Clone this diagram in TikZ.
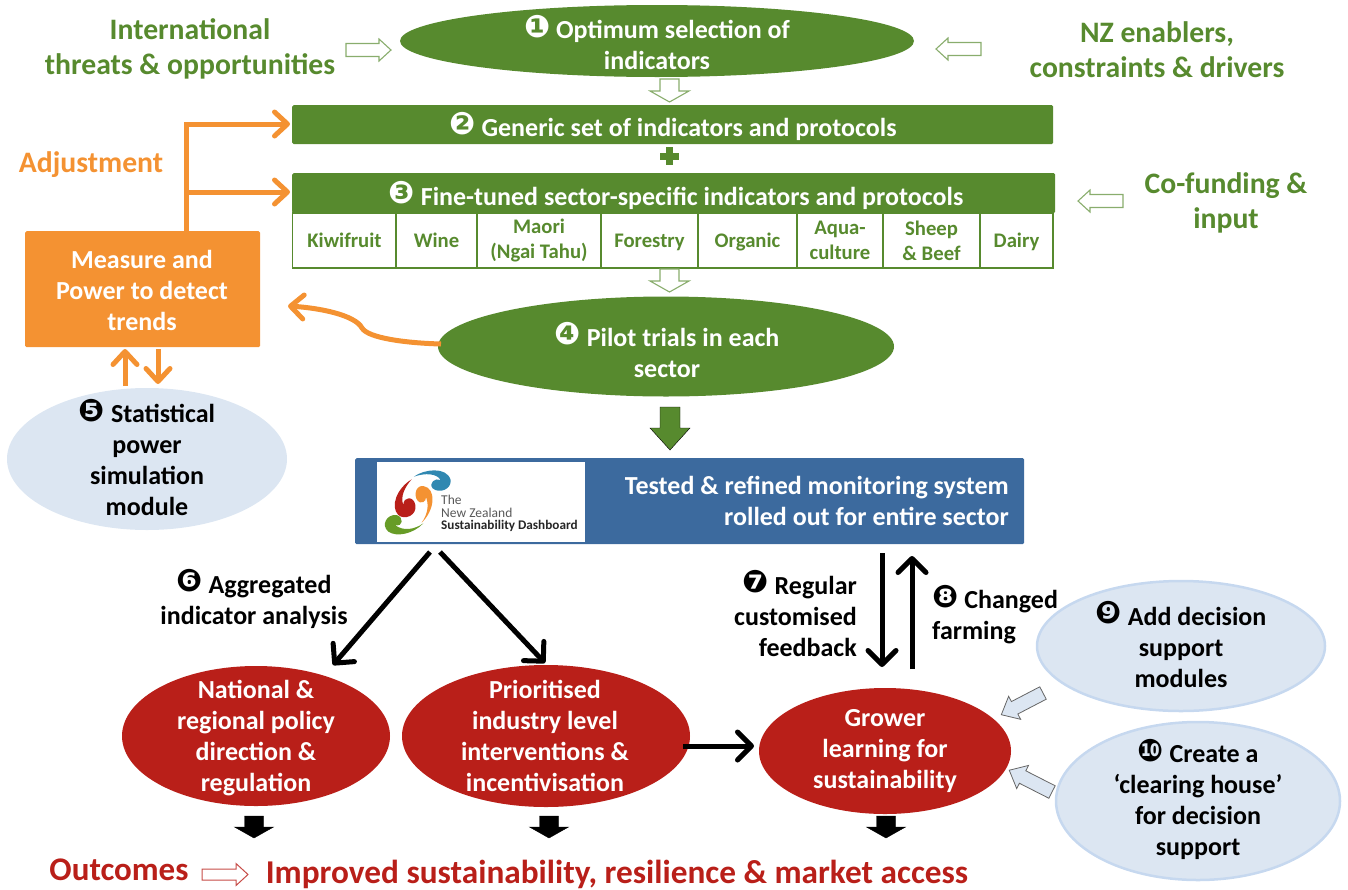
\documentclass[tikz,border=0pt]{standalone}
\usepackage{fontspec}
\setmainfont{Carlito}[BoldFont={Carlito Bold}]
\newfontfamily\symfnt{DejaVu Sans}
\usetikzlibrary{shapes.geometric,arrows.meta}
\definecolor{grn}{HTML}{578A2E}
\definecolor{org}{HTML}{F49232}
\definecolor{rd}{HTML}{B91F19}
\definecolor{blu}{HTML}{3C6A9E}
\definecolor{lbl}{HTML}{DCE6F2}
\definecolor{lbd}{HTML}{C6D8EF}
\newcommand{\fsz}[2]{\fontsize{#1}{#2}\selectfont\bfseries}
\newcommand{\cn}[1]{\raisebox{1.5pt}[0pt][0pt]{\symfnt\fontsize{31}{31}\selectfont #1}}
\newcommand{\nod}[1]{\raisebox{0pt}[\height][0pt]{#1}}
% block arrow: tail(x,y), length, rotation, half shaft, half head, head length, style
\newcommand{\blockarr}[8]{\draw[#8,shift={(#1,#2)},rotate=-#4]
  (0,-#5)--(#3-#7,-#5)--(#3-#7,-#6)--(#3,0)--(#3-#7,#6)--(#3-#7,#5)--(0,#5)--cycle;}
\tikzset{
  greenell/.style={ellipse,fill=grn,inner sep=0pt},
  redell/.style={ellipse,fill=rd,inner sep=0pt},
  blueell/.style={ellipse,fill=lbl,draw=lbd,line width=2.5pt,inner sep=0pt},
  lab/.style={align=center,inner sep=0pt,font=\fsz{26}{31}},
  wlab/.style={lab,text=white},
  blab/.style={lab,text=black},
  glab/.style={align=center,inner sep=0pt,font=\fsz{29.7}{35},text=grn},
  bar/.style={rectangle,fill=grn,inner sep=0pt,anchor=north west,rounded corners=1.5pt},
  cellb/.style={rectangle,draw=grn,line width=1.5pt,inner sep=0pt,minimum height=55pt,text=grn,align=center,font=\fsz{20.7}{25}},
  hollowg/.style={draw=grn!70!white,fill=white,line width=1.1pt},
  orgline/.style={draw=org,line width=5pt,-{Straight Barb[length=13pt,width=24pt,line width=5pt,round]}},
  blkline/.style={draw=black,line width=5pt,-{Straight Barb[length=14pt,width=28pt,line width=5pt,round]}},
}
\begin{document}
\begin{tikzpicture}[x=1pt,y=-1pt]
\useasboundingbox (0,0) rectangle (1348,889);
% green ellipses and bars
\node[greenell,minimum width=514pt,minimum height=72pt] (e1) at (657,41) {};
\node[wlab] (t1) at (657,45) {\cn{❶} Optimum selection of\\indicators};
\node[bar,minimum width=761pt,minimum height=39pt] (b2) at (292,105) {};
\node[wlab] (t2) at (673,129) {\cn{❷} Generic set of indicators and protocols};
\node[bar,minimum width=763pt,minimum height=40pt] (b3) at (292,173) {};
\node[wlab] (t3) at (676,198) {\cn{❸} Fine-tuned sector-specific indicators and protocols};
% plus
\fill[grn] (666,147) rectangle (673,165);
\fill[grn] (660,152.5) rectangle (679,159.5);
% table
\node[cellb,minimum width=104pt] (c1) at (344.5,240.5) {Kiwifruit};
\node[cellb,minimum width=81pt] (c2) at (436.5,240.5) {Wine};
\node[cellb,minimum width=124pt] (c3) at (539,240.5) {Maori\\(Ngai Tahu)};
\node[cellb,minimum width=97pt] (c4) at (649.5,240.5) {\nod{Forestry}};
\node[cellb,minimum width=99pt] (c5) at (747.5,240.5) {\nod{Organic}};
\node[cellb,minimum width=86pt] (c6) at (840,240.5) {Aqua-\\culture};
\node[cellb,minimum width=97pt] (c7) at (931.5,240.5) {Sheep\\\& Beef};
\node[cellb,minimum width=73pt] (c8) at (1016.5,240.5) {\nod{Dairy}};
% side labels
\node[glab] (tl) at (190,48.5) {International\\threats \& opportunities};
\node[glab] (tr) at (1157,50) {NZ enablers,\\constraints \& drivers};
\node[glab] (tc) at (1226,202.5) {Co-funding \&\\input};
\node[align=center,inner sep=0pt,font=\fsz{29.7}{30},text=org] (adj) at (91,165) {Adjustment};
% hollow arrows
\blockarr{346}{50}{45}{0}{6.5}{11}{12}{hollowg}
\blockarr{981}{49}{45}{180}{6.5}{11}{12}{hollowg}
\blockarr{669.5}{79}{23}{90}{9.5}{19.5}{11}{hollowg}
\blockarr{669.5}{269}{23}{90}{9.5}{19.5}{11}{hollowg}
\blockarr{1123}{201}{45}{180}{6.5}{11}{12}{hollowg}
% pilot ellipse
\node[greenell,minimum width=456pt,minimum height=100pt] (e4) at (666,346.5) {};
\node[wlab] (t4) at (667,352.5) {\cn{❹} Pilot trials in each\\sector};
% orange box
\node[rectangle,fill=org,minimum width=235pt,minimum height=116pt,inner sep=0pt,anchor=north west,rounded corners=1.5pt] (mp) at (25,231) {};
\node[wlab] (tm) at (142,290) {Measure and\\Power to detect\\trends};
% ellipse 5
\node[ellipse,fill=lbl,inner sep=0pt,minimum width=280pt,minimum height=142pt] (e5) at (147,459) {};
\node[blab] (t5) at (147,460) {\cn{❺} Statistical\\power\\simulation\\module};
% orange connectors
\coordinate (o0) at (186,231);
\coordinate (o1) at (186,124);
\coordinate (o2) at (186,192);
\coordinate (o3) at (290,124);
\coordinate (o4) at (290,192);
\draw[orgline] (o0) -- (o1) -- (o3);
\draw[orgline] (o2) -- (o4);
\coordinate (o5) at (125,386);
\coordinate (o6) at (125,349);
\coordinate (o7) at (158,349);
\coordinate (o8) at (158,384);
\draw[orgline] (o5) -- (o6);
\draw[orgline] (o7) -- (o8);
\coordinate (o9) at (441,344);
\coordinate (o10) at (288,306);
\draw[orgline] (o9) .. controls (405,343) and (368,338) .. (362,328) .. controls (355,315) and (320,308) .. (o10);
% down arrow green
\blockarr{670}{407}{43}{90}{10}{20}{22}{fill=grn}
% blue bar
\node[rectangle,fill=blu,minimum width=669pt,minimum height=86pt,inner sep=0pt,anchor=north west,rounded corners=1.5pt] (bb) at (355,458) {};
\node[rectangle,fill=white,minimum width=208pt,minimum height=80pt,inner sep=0pt,anchor=north west] (lg) at (377,462) {};
\node[align=right,inner sep=0pt,anchor=east,font=\fsz{26}{31},text=white] (tb) at (1009,501) {Tested \& refined monitoring system\\rolled out for entire sector};
% logo
\begin{scope}[shift={(340,450)},x=0.3333pt,y=-0.3333pt]
\fill[blu!80!cyan] (222,80) .. controls (250,58) and (320,48) .. (332,90) .. controls (335,118) and (298,132) .. (278,115) .. controls (265,100) and (285,82) .. (302,90) .. controls (290,70) and (255,68) .. (222,80) -- cycle;
\fill[rd] (215,88) .. controls (170,115) and (150,170) .. (175,195) .. controls (195,212) and (232,195) .. (226,165) .. controls (222,138) and (190,138) .. (190,165) .. controls (180,140) and (195,110) .. (215,88) -- cycle;
\fill[org] (245,218) .. controls (285,180) and (290,115) .. (250,108) .. controls (222,105) and (220,150) .. (240,157) .. controls (255,160) and (262,145) .. (255,135) .. controls (268,160) and (265,190) .. (245,218) -- cycle;
\fill[grn!85!lime] (250,220) .. controls (220,252) and (170,262) .. (145,245) .. controls (122,225) and (140,192) .. (170,195) .. controls (192,202) and (190,232) .. (165,225) .. controls (190,245) and (225,238) .. (250,220) -- cycle;
\end{scope}
\node[anchor=west,inner sep=0pt,text=black!65,font=\fontsize{13.5}{14}\selectfont] (lg1) at (441,500) {The};
\node[anchor=west,inner sep=0pt,text=black!65,font=\fontsize{13.5}{14}\selectfont] (lg2) at (441,512.5) {New Zealand};
\node[anchor=west,inner sep=0pt,text=black!85,font=\fsz{13.2}{14}] (lg3) at (441,525.5) {Sustainability Dashboard};
% red ellipses
\node[redell,minimum width=268pt,minimum height=140pt] (r1) at (256,736) {};
\node[wlab] (tr1) at (256,738) {National \&\\regional policy\\direction \&\\regulation};
\node[redell,minimum width=288pt,minimum height=142pt] (r2) at (546,736) {};
\node[wlab] (tr2) at (545,736) {Prioritised\\industry level\\interventions \&\\incentivisation};
\node[redell,minimum width=252pt,minimum height=126pt] (r3) at (885,751) {};
\node[wlab] (tr3) at (885,751) {Grower\\learning for\\sustainability};
% blue ellipses
\node[blueell,minimum width=288pt,minimum height=130pt] (e9) at (1181,646) {};
\node[blab] (t9) at (1181,647) {\cn{❾} Add decision\\support\\modules};
\node[blueell,minimum width=284pt,minimum height=158pt] (e10) at (1198,801) {};
\node[blab] (t10) at (1198,803) {\cn{❿} Create a\\‘clearing house’\\for decision\\support};
% black connectors
\coordinate (k1) at (430,552);
\coordinate (k2) at (333,665);
\coordinate (k3) at (440,552);
\coordinate (k4) at (545,663);
\coordinate (k5) at (882,553);
\coordinate (k6) at (882,667);
\coordinate (k7) at (912,669);
\coordinate (k8) at (912,556);
\coordinate (k9) at (683,746);
\coordinate (k10) at (754,746);
\draw[blkline] (k1) -- (k2);
\draw[blkline] (k3) -- (k4);
\draw[blkline] (k5) -- (k6);
\draw[blkline] (k7) -- (k8);
\draw[blkline] (k9) -- (k10);
% black labels
\node[blab] (t6) at (254,601.5) {\cn{❻} Aggregated\\indicator analysis};
\node[blab,align=right,anchor=east] (t7) at (857,616) {\cn{❼} Regular\\customised\\feedback};
\node[blab,align=left,anchor=west] (t8) at (932,617.5) {\cn{❽} Changed\\farming};
% small blue arrows
\blockarr{1043}{693}{47}{152.5}{7}{13}{15}{fill=lbl,draw=black!60,line width=0.8pt}
\blockarr{1052}{792}{48}{207}{7}{13}{15}{fill=lbl,draw=black!60,line width=0.8pt}
% black block arrows
\blockarr{254}{816}{22}{90}{9.5}{19.5}{11}{fill=black}
\blockarr{549}{816}{22}{90}{9.5}{19.5}{11}{fill=black}
\blockarr{886}{816}{22}{90}{9.5}{19.5}{11}{fill=black}
% outcomes
\node[inner sep=0pt,anchor=center,font=\fsz{33}{34},text=rd] (ou) at (119,870) {Outcomes};
\blockarr{202}{874.5}{46}{0}{5.5}{11}{12}{draw=rd!80!white,fill=white,line width=1pt}
\node[inner sep=0pt,anchor=center,font=\fsz{33.3}{34},text=rd] (im) at (617,874) {Improved sustainability, resilience \& market access};
\end{tikzpicture}
\end{document}
